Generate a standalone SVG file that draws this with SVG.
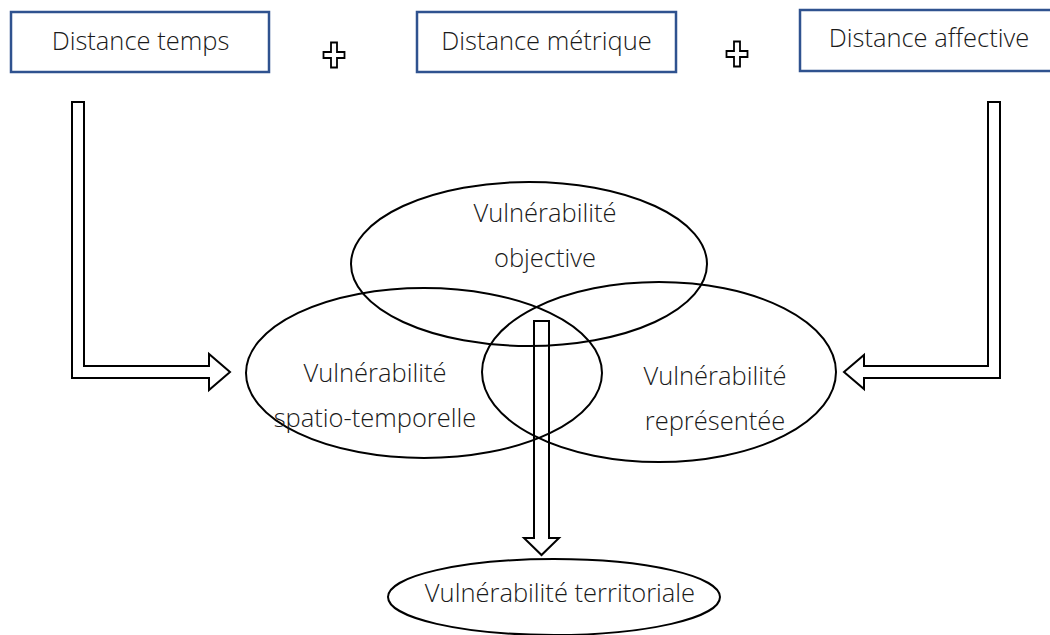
<svg xmlns="http://www.w3.org/2000/svg" width="1050" height="635" viewBox="0 0 1050 635">
  <style>
    .box { fill: #ffffff; stroke: #2F528F; stroke-width: 2.5; }
    .ell { fill: none; stroke: #000000; stroke-width: 2; }
    .arr { fill: #ffffff; stroke: #000000; stroke-width: 2; stroke-linejoin: miter; }
    .arr-open { fill: none; stroke: #000000; stroke-width: 2; stroke-linejoin: miter; }
    .plus { fill: #ffffff; stroke: #000000; stroke-width: 1.8; }
    .lbl { font-family: "Open Sans", "Liberation Sans", sans-serif; font-weight: 300; font-size: 25.5px; fill: #1a1a1a; text-anchor: middle; }
  </style>
  <defs>
    <path id="plusShape" d="M-3,-12.5 L3,-12.5 L3,-3 L10.5,-3 L10.5,3 L3,3 L3,12.5 L-3,12.5 L-3,3 L-10.5,3 L-10.5,-3 L-3,-3 Z"/>
  </defs>
  <rect width="1050" height="635" fill="#ffffff"/>

  <g id="box-temps">
    <rect class="box" x="11" y="12" width="258" height="60"/>
    <text class="lbl" x="140.5" y="50">Distance temps</text>
  </g>
  <g id="plus-1">
    <use href="#plusShape" class="plus" x="334" y="55"/>
  </g>
  <g id="box-metrique">
    <rect class="box" x="417" y="12" width="259" height="60"/>
    <text class="lbl" x="546.5" y="50">Distance métrique</text>
  </g>
  <g id="plus-2">
    <use href="#plusShape" class="plus" x="737" y="54"/>
  </g>
  <g id="box-affective">
    <rect class="box" x="800" y="10" width="258" height="61"/>
    <text class="lbl" x="929" y="47">Distance affective</text>
  </g>

  <g id="connectors">
    <path class="arr" d="M72,102 L84,102 L84,366 L209,366 L209,354 L230,372 L209,390 L209,378 L72,378 Z"/>
    <path class="arr" d="M1000,102 L988,102 L988,366 L864,366 L864,355 L844,372 L864,389 L864,378 L1000,378 Z"/>
  </g>

  <g id="ell-objective">
    <ellipse class="ell" cx="529" cy="264" rx="178" ry="82"/>
    <text class="lbl" x="545" y="222">Vulnérabilité</text>
    <text class="lbl" x="545" y="267">objective</text>
  </g>
  <g id="ell-spatio">
    <ellipse class="ell" cx="424" cy="373" rx="178" ry="85"/>
    <text class="lbl" x="375" y="382">Vulnérabilité</text>
    <text class="lbl" x="375" y="427">spatio-temporelle</text>
  </g>
  <g id="ell-representee">
    <ellipse class="ell" cx="659" cy="372" rx="177" ry="90"/>
    <text class="lbl" x="715" y="385">Vulnérabilité</text>
    <text class="lbl" x="715" y="430">représentée</text>
  </g>
  <g id="ell-territoriale">
    <ellipse class="ell" cx="554" cy="597" rx="166" ry="38"/>
    <text class="lbl" x="560" y="602">Vulnérabilité territoriale</text>
  </g>

  <g id="connectors-center">
    <path class="arr-open" d="M534,321 L549,321 L549,538 L559,538 L541.5,555 L524,538 L534,538 Z"/>
  </g>
</svg>
